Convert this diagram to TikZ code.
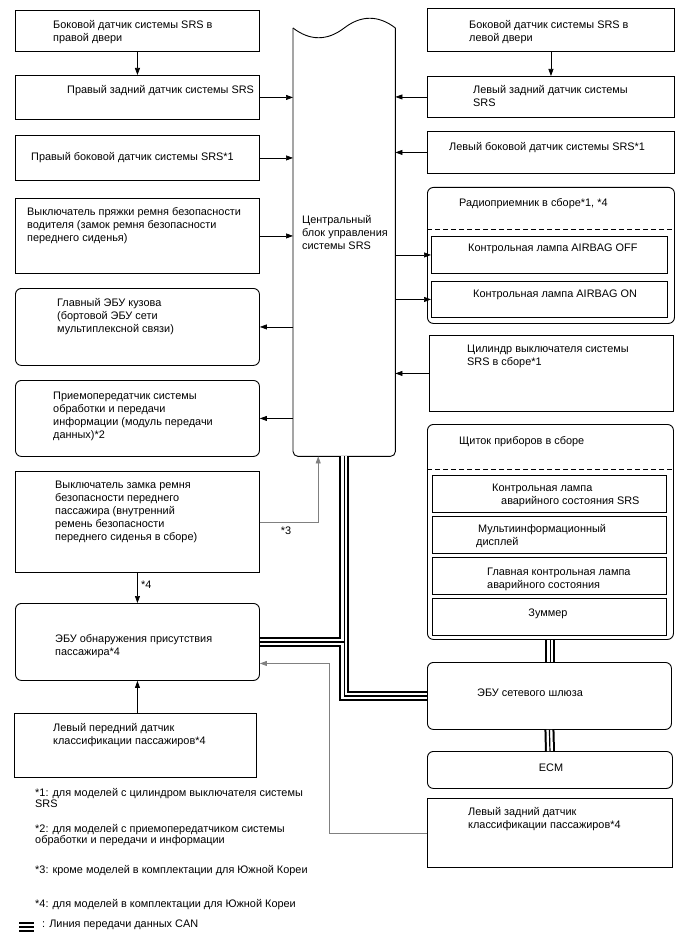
\documentclass[tikz,border=0pt]{standalone}
\usepackage{fontspec}
\setmainfont{Liberation Sans}
\usetikzlibrary{arrows.meta,calc}

\begin{document}
\begin{tikzpicture}[x=1pt,y=-1pt,every node/.style={font=\fontsize{10.9}{13}\selectfont},
 box/.style={draw,line width=0.9pt,inner sep=0pt,anchor=north west},
 rbox/.style={box,rounded corners=6pt},
 txt/.style={anchor=base west,inner sep=0pt,align=left},
 note/.style={txt,font=\fontsize{10.9}{11}\selectfont},
 sig/.style={line width=0.7pt,-{Triangle[length=7pt,width=5pt]}},
 opt/.style={sig,draw=black!50}]
\useasboundingbox (0,0) rectangle (688,949);
% boxes
\foreach \n/\x/\y/\w/\h in {rdoor/15/10/244/41,rrear/15/75/244/44,rside/15/135/244/45,dbuckle/15/198/244/75,
 pbuckle/15/471/244/101,lfront/14/713/242/64,ldoor/427/8/247/43,lrear/427/76/247/41,lside/427/131/247/42,
 cyl/429/335/244/76,lrearocc/427/798/245/69,off/431/236/236/37,on/431/281/236/36,
 srs/432/475/234/37,mid/432/516/234/37,master/432/557/234/37,buzz/432/598/234/37}
 {\node[box,minimum width=\w,minimum height=\h] (\n) at (\x,\y) {};}
\foreach \n/\x/\y/\w/\h in {body/15/288/244/77,dcm/15/380/244/76,occ/15/603/244/77,radio/427/187/247/136,
 meter/427/424/246/215,gw/427/662/244/67,ecm/427/751/245/37}
 {\node[rbox,minimum width=\w,minimum height=\h] (\n) at (\x,\y) {};}
\draw[dashed,dash pattern=on 5pt off 3pt,line width=0.8pt] ([yshift=-42pt]radio.north west) -- ([yshift=-42pt]radio.north east);
\draw[dashed,dash pattern=on 5pt off 3pt,line width=0.8pt] ([yshift=-45pt]meter.north west) -- ([yshift=-45pt]meter.north east);
% central unit
\node[inner sep=0pt,anchor=north west,minimum width=102,minimum height=428] (ecu) at (293,28) {};
\draw[line width=0.9pt,rounded corners=5pt] (ecu.north east) -- (ecu.south east) -- (ecu.south west) -- (ecu.north west);
\draw[line width=0.9pt] (ecu.north west) .. controls +(17,13) and +(-17,13) .. (ecu.north) .. controls +(17,-13) and +(-17,-13) .. (ecu.north east);
\node[txt] (ecu-t) at (302,250) {Центральный\\блок управления\\системы SRS};
% texts (base = last line)
\node[txt] (rdoor-t) at (53,42) {Боковой датчик системы SRS в\\правой двери};
\node[txt] (rrear-t) at (67,94) {Правый задний датчик системы SRS};
\node[txt] (rside-t) at (31,161) {Правый боковой датчик системы SRS*1};
\node[txt] (dbuckle-t) at (27,242) {Выключатель пряжки ремня безопасности\\водителя (замок ремня безопасности\\переднего сиденья)};
\node[txt] (body-t) at (57,332) {Главный ЭБУ кузова\\(бортовой ЭБУ сети\\мультиплексной связи)};
\node[txt] (dcm-t) at (53,438) {Приемопередатчик системы\\обработки и передачи\\информации (модуль передачи\\данных)*2};
\node[txt] (pbuckle-t) at (55,540) {Выключатель замка ремня\\безопасности переднего\\пассажира (внутренний\\ремень безопасности\\переднего сиденья в сборе)};
\node[txt] (occ-t) at (55,655) {ЭБУ обнаружения присутствия\\пассажира*4};
\node[txt] (lfront-t) at (53,744) {Левый передний датчик\\классификации пассажиров*4};
\node[txt] (ldoor-t) at (469,42) {Боковой датчик системы SRS в\\левой двери};
\node[txt] (lrear-t) at (473,107) {Левый задний датчик системы\\SRS};
\node[txt] (lside-t) at (449,151) {Левый боковой датчик системы SRS*1};
\node[txt] (radio-t) at (459,207) {Радиоприемник в сборе*1, *4};
\node[txt] (off-t) at (468,252) {Контрольная лампа AIRBAG OFF};
\node[txt] (on-t) at (473,297) {Контрольная лампа AIRBAG ON};
\node[txt] (cyl-t) at (467,365) {Цилиндр выключателя системы\\SRS в сборе*1};
\node[txt] (meter-t) at (459,444) {Щиток приборов в сборе};
\node[txt] (srs-t) at (492,504) {Контрольная лампа\\\hspace*{9pt}аварийного состояния SRS};
\node[txt] (mid-t) at (476,545) {\hspace*{2pt}Мультиинформационный\\дисплей};
\node[txt] (master-t) at (487,588) {Главная контрольная лампа\\аварийного состояния};
\node[anchor=base,inner sep=0pt] (buzz-t) at (548,616) {Зуммер};
\node[txt] (gw-t) at (477,696) {ЭБУ сетевого шлюза};
\node[anchor=base,inner sep=0pt] (ecm-t) at (551,771) {ECM};
\node[txt] (lrearocc-t) at (468,828) {Левый задний датчик\\классификации пассажиров*4};
% signal lines
\draw[sig] (rdoor.south) -- (rrear.north);
\draw[sig] (ldoor.south) -- (lrear.north);
\foreach \n in {rrear,rside,dbuckle} {\draw[sig] (\n.east) -- (\n.east -| ecu.west);}
\foreach \n in {body,dcm} {\draw[sig] (\n.east -| ecu.west) -- (\n.east);}
\foreach \n in {lrear,lside,cyl} {\draw[sig] (\n.west) -- (\n.west -| ecu.east);}
\foreach \n in {off,on} {\draw[sig] (\n.west -| ecu.east) -- (\n.west);}
\draw[opt] (pbuckle.east) -| ([xshift=-26pt]ecu.south);
\node[inner sep=0pt] (n3) at (286,531) {*3};
\draw[sig] (pbuckle.south) -- (occ.north);
\node[anchor=west,inner sep=0pt] (n4) at (141,585) {*4};
\draw[sig] (occ.south |- lfront.north) -- (occ.south);
\draw[opt] (lrearocc.west) -- ++(-98,0) |- ([yshift=-21.5pt]occ.east);
% CAN
\coordinate (legA) at (19,927);
\coordinate (legB) at (34,927);
\foreach \w/\c in {10/black,6/white,1.2/black}{
 \draw[line width=\w pt,\c] (ecu.south) -- (ecu.south |- occ.east) -- (occ.east);
 \draw[line width=\w pt,\c] (ecu.south) |- (gw.west);
 \draw[line width=\w pt,\c] (meter.south) -- (meter.south |- gw.north);
 \draw[line width=\w pt,\c] (gw.south) -- (ecm.north);
 \draw[line width=\w pt,\c] (legA) -- (legB);}
% notes
\node[note] (note1) at (35,807) {*1: для моделей с цилиндром выключателя системы\\SRS};
\node[note] (note2) at (35,843) {*2: для моделей с приемопередатчиком системы\\обработки и передачи и информации};
\node[note] (note3) at (35,873) {*3: кроме моделей в комплектации для Южной Кореи};
\node[note] (note4) at (35,907) {*4: для моделей в комплектации для Южной Кореи};
\node[note] (legend) at (42,927) {: Линия передачи данных CAN};
\end{tikzpicture}
\end{document}
